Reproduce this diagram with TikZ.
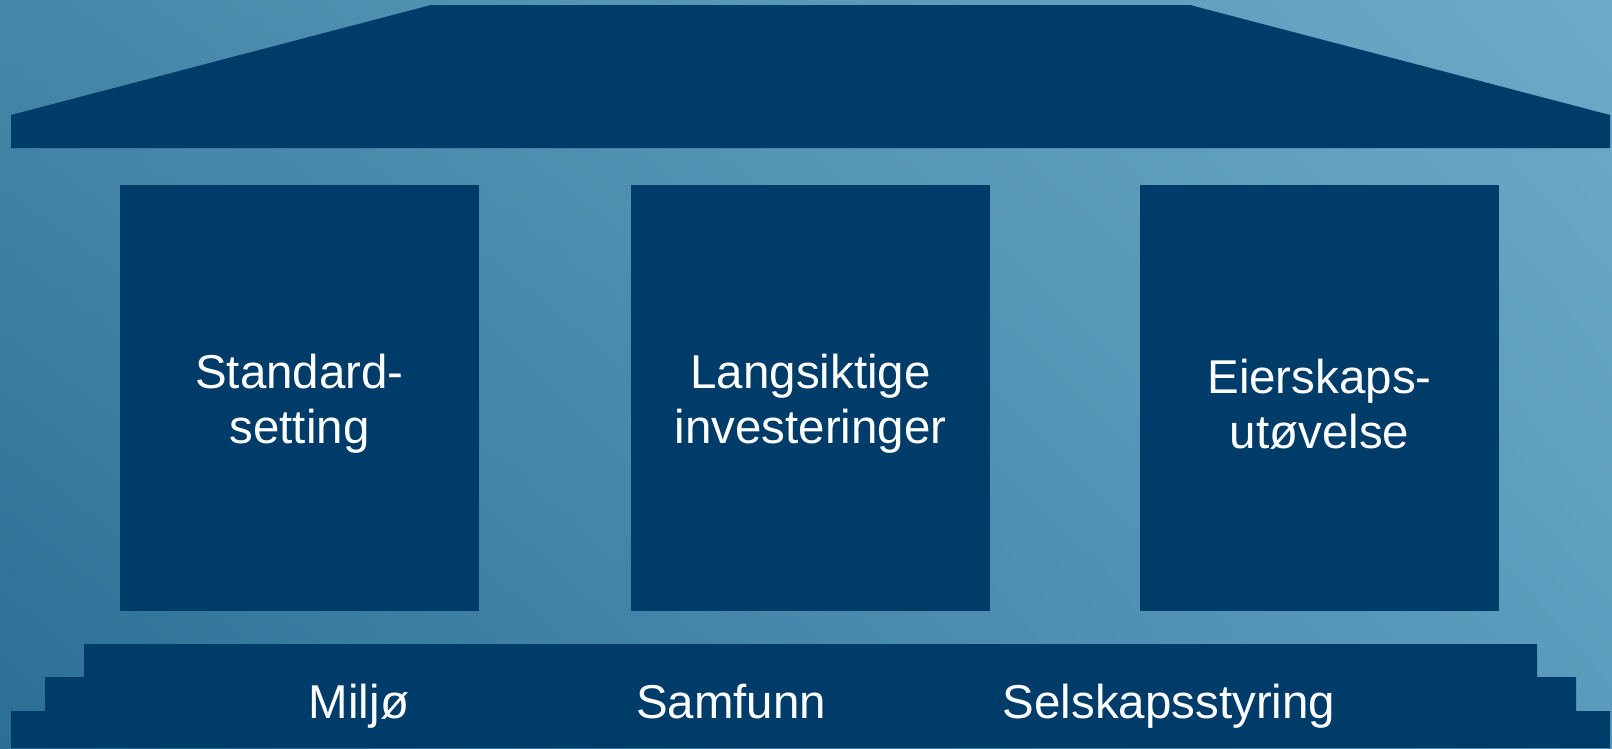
\documentclass[tikz,border=0pt]{standalone}
\usepackage{fontspec}
\setmainfont{Liberation Sans}
\usepackage{tikz}
\usetikzlibrary{positioning, calc, shadings}

\definecolor{navy}{HTML}{003C69}
\definecolor{bgll}{HTML}{2C6E94}
\definecolor{bgul}{HTML}{4687A9}
\definecolor{bgur}{HTML}{6CAAC8}
\definecolor{bglr}{HTML}{5A9BBD}

\tikzset{
	pillar/.style={fill=navy, rectangle, minimum width=3.59cm, minimum height=4.26cm, inner sep=0pt},
	pillartext/.style={text=white, align=center, text centered, inner sep=0pt,
		font=\fontsize{13.5}{15.6}\selectfont},
	baselabel/.style={text=white, anchor=base, inner sep=0pt,
		font=\fontsize{13.5}{15.6}\selectfont}
}

\begin{document}
\begin{tikzpicture}[x=0.01cm, y=-0.01cm]
			
			% background
			\shade[lower left=bgll, upper left=bgul, upper right=bgur, lower right=bglr]
			(0,0) rectangle (1612,748);
			\useasboundingbox (0,0) rectangle (1612,748);
			
			% roof
			\fill[navy] (11,148) -- (11,115) -- (431,5) -- (1190,5) -- (1610,115) -- (1610,148) -- cycle;
			
			% pillars
			\node (std) at (299.5,398) [pillar]{};
			\node (inv) at (810.5,398) [pillar]{};
			\node (eier) at (1319.5,398) [pillar]{};
			
			\node (stdtxt) at ($(std.center)+(0,6)$) [pillartext]{Standard-\\setting};
			\node (invtxt) at ($(inv.center)+(0,6)$) [pillartext]{Langsiktige\\investeringer};
			\node (eiertxt) at ($(eier.center)+(0,6)$) [pillartext]{Eierskaps-\\utøvelse};
			
			% steps
			\fill[navy] (11,748) -- (11,711) -- (45,711) -- (45,677) -- (84,677) -- (84,644)
			-- (1537,644) -- (1537,677) -- (1576,677) -- (1576,711) -- (1610,711) -- (1610,748) -- cycle;
			
			\node (miljo) at (359,718) [baselabel]{Miljø};
			\node (samf) at (731,718) [baselabel]{Samfunn};
			\node (selsk) at (1169,718) [baselabel]{Selskapsstyring};
			
\end{tikzpicture}
\end{document}
